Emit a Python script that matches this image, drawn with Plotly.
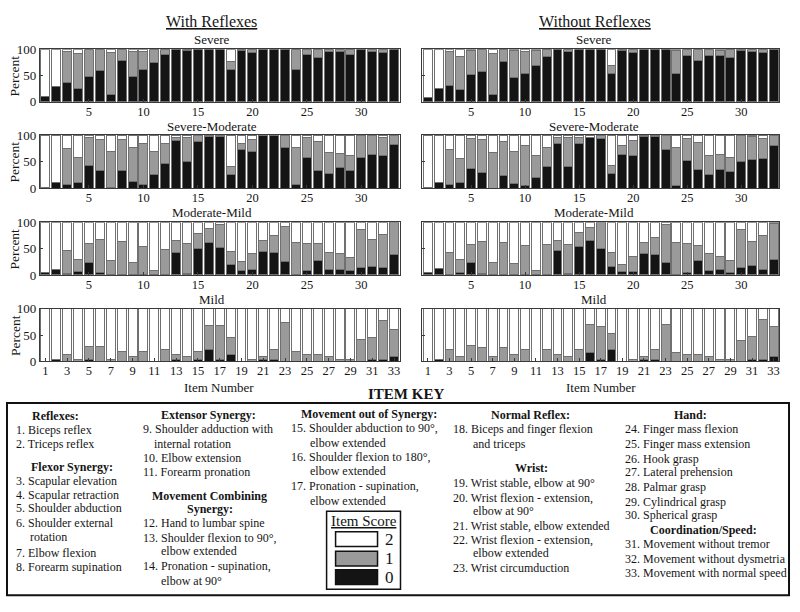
import plotly.graph_objects as go

W, H = 800, 612
FONT = "Liberation Serif, Times New Roman, serif"
TXT = "#151515"
AX = "#3a3a3a"

items = list(range(1, 34))

# ---- data: percent of subjects with item score 0 (black) and 1 (gray) ----
severe_with_0 = [10, 30, 36, 25, 49, 59, 15, 78, 49, 62, 75, 90, 100, 97, 100, 100, 100, 62, 97, 93, 100, 100, 100, 62, 90, 85, 95, 95, 90, 100, 95, 94, 100]
severe_with_1 = [0, 0, 60, 66, 51, 41, 78, 22, 47, 34, 25, 10, 0, 3, 0, 0, 0, 14, 3, 7, 0, 0, 0, 38, 10, 15, 5, 5, 10, 0, 5, 6, 0]
severe_wo_0 = [8, 25, 31, 23, 52, 58, 14, 77, 47, 54, 70, 86, 100, 96, 100, 100, 100, 54, 97, 94, 100, 100, 100, 54, 88, 78, 88, 89, 84, 98, 96, 94, 100]
severe_wo_1 = [0, 0, 64, 63, 46, 42, 77, 23, 50, 41, 28, 14, 0, 4, 0, 0, 0, 15, 3, 6, 0, 0, 0, 43, 12, 22, 12, 9, 16, 2, 4, 6, 0]

sevmod_with_0 = [2, 10, 6, 10, 42, 33, 1, 33, 12, 6, 25, 47, 90, 50, 88, 98, 97, 25, 72, 69, 100, 100, 77, 6, 58, 34, 27, 38, 33, 57, 63, 61, 82]
sevmod_with_1 = [0, 0, 69, 48, 53, 58, 68, 58, 65, 79, 45, 38, 6, 45, 11, 0, 0, 16, 13, 22, 0, 0, 22, 71, 37, 54, 40, 28, 28, 42, 37, 34, 18]
sevmod_wo_0 = [1, 10, 7, 11, 37, 30, 0, 24, 9, 5, 20, 40, 85, 40, 85, 96, 94, 28, 64, 61, 97, 98, 73, 5, 53, 35, 25, 35, 31, 51, 54, 56, 81]
sevmod_wo_1 = [0, 0, 66, 45, 56, 61, 68, 64, 61, 76, 42, 37, 11, 56, 11, 0, 6, 15, 17, 29, 2, 0, 27, 71, 40, 51, 37, 29, 26, 49, 43, 38, 19]

modmild_with_0 = [4, 11, 2, 6, 23, 4, 0, 0, 0, 0, 0, 0, 43, 2, 51, 61, 52, 20, 8, 10, 45, 43, 26, 0, 8, 28, 11, 11, 9, 15, 17, 15, 38]
modmild_with_1 = [0, 0, 45, 24, 37, 63, 28, 64, 23, 54, 8, 49, 22, 58, 27, 27, 43, 25, 17, 31, 20, 32, 66, 62, 52, 32, 32, 30, 25, 71, 50, 62, 61]
modmild_wo_0 = [4, 13, 0, 4, 23, 2, 0, 0, 0, 0, 0, 0, 47, 2, 54, 66, 50, 16, 7, 7, 40, 39, 23, 0, 4, 27, 9, 11, 5, 14, 18, 11, 29]
modmild_wo_1 = [0, 0, 43, 25, 34, 62, 23, 62, 21, 55, 9, 57, 19, 55, 27, 25, 49, 27, 12, 29, 21, 33, 73, 61, 55, 28, 31, 25, 22, 72, 46, 64, 69]

mild_with_0 = [0, 4, 0, 0, 4, 0, 0, 0, 0, 0, 0, 0, 4, 0, 4, 23, 4, 14, 0, 0, 4, 4, 0, 0, 0, 0, 0, 0, 0, 0, 4, 4, 9]
mild_with_1 = [0, 0, 14, 4, 24, 28, 4, 19, 9, 19, 0, 23, 10, 9, 15, 46, 65, 32, 0, 4, 5, 19, 73, 19, 14, 14, 9, 4, 4, 41, 42, 73, 51]
mild_wo_0 = [0, 3, 0, 0, 0, 0, 0, 0, 0, 0, 0, 0, 0, 0, 0, 17, 4, 22, 0, 0, 4, 4, 0, 0, 0, 0, 0, 0, 0, 0, 4, 4, 9]
mild_wo_1 = [0, 0, 22, 9, 31, 26, 9, 26, 13, 22, 0, 22, 13, 9, 22, 53, 63, 30, 0, 4, 5, 18, 70, 17, 13, 13, 9, 4, 4, 39, 44, 76, 58]

severity_titles = ["Severe", "Severe-Moderate", "Moderate-Mild", "Mild"]
column_titles = ["With Reflexes", "Without Reflexes"]
panels = [
    [(severe_with_0, severe_with_1), (severe_wo_0, severe_wo_1)],
    [(sevmod_with_0, sevmod_with_1), (sevmod_wo_0, sevmod_wo_1)],
    [(modmild_with_0, modmild_with_1), (modmild_wo_0, modmild_wo_1)],
    [(mild_with_0, mild_with_1), (mild_wo_0, mild_wo_1)],
]
score_labels = ["2", "1", "0"]
score_colors = {"0": "#141414", "1": "#9a9a9a", "2": "#ffffff"}

# ---- layout geometry (pixels) ----
col_x = [(40, 400), (423, 780)]
row_y = [(43.3, 97.3), (131.3, 185.7), (220.7, 274.7), (309.3, 363.3)]
col_title_x = [212, 595]


def px(x):
    return x / W


def py(y):
    return 1 - y / H


fig = go.Figure()
layout = dict(
    width=W, height=H, margin=dict(l=0, r=0, t=0, b=0),
    paper_bgcolor="white", plot_bgcolor="white",
    barmode="stack", bargap=0.18, showlegend=False,
    font=dict(family=FONT, color=TXT),
)
annotations = []
shapes = []


def ann(text, x, y, size=12, xanchor="center", yanchor="middle", bold=False, angle=0):
    if bold:
        text = "<b>" + text + "</b>"
    annotations.append(dict(
        text=text, x=px(x), y=py(y), xref="paper", yref="paper",
        xanchor=xanchor, yanchor=yanchor, showarrow=False, textangle=angle,
        borderpad=0, font=dict(family=FONT, size=size, color=TXT),
    ))


for r in range(4):
    for c in range(2):
        n = r * 2 + c + 1
        suffix = "" if n == 1 else str(n)
        b0, b1 = panels[r][c]
        b2 = [100 - a - b for a, b in zip(b0, b1)]
        for vals, key in ((b0, "0"), (b1, "1"), (b2, "2")):
            fig.add_trace(go.Bar(
                x=items, y=vals, xaxis="x" + suffix, yaxis="y" + suffix,
                marker=dict(color=score_colors[key], line=dict(color="#707070", width=1)),
                hoverinfo="skip",
            ))
        if r == 3:
            tv = list(range(1, 34, 2))
        else:
            tv = list(range(5, 31, 5))
        layout["xaxis" + suffix] = dict(
            domain=[px(col_x[c][0]), px(col_x[c][1])], range=[0.5, 33.5],
            anchor="y" + suffix, tickvals=tv, ticktext=[str(v) for v in tv],
            showline=True, mirror=True, linecolor=AX, linewidth=1,
            ticks="inside", ticklen=3, tickcolor=AX, ticklabelstandoff=-2,
            tickfont=dict(family=FONT, size=12.5, color=TXT),
            showgrid=False, zeroline=False, fixedrange=True,
        )
        layout["yaxis" + suffix] = dict(
            domain=[py(row_y[r][1]), py(row_y[r][0])], range=[0, 100],
            anchor="x" + suffix, tickvals=[0, 50, 100],
            showticklabels=(c == 0),
            showline=True, mirror=True, linecolor=AX, linewidth=1,
            ticks="inside", ticklen=3, tickcolor=AX,
            tickfont=dict(family=FONT, size=13, color=TXT),
            showgrid=False, zeroline=False, fixedrange=True,
        )
        # panel title
        title_y = [33, 122.5, 211, 300][r]
        ann(severity_titles[r], col_title_x[c], title_y, size=13)
    # Percent label
    ann("Percent", 15, (row_y[r][0] + row_y[r][1]) / 2, size=13.5, angle=-90)

# column titles
ann("<u>" + column_titles[0] + "</u>", 212, 15, size=16)
ann("<u>" + column_titles[1] + "</u>", 596, 15, size=16)
# x axis titles
ann("Item Number", 219, 390, size=13)
ann("Item Number", 602, 390, size=13)

# ---- ITEM KEY ----
ann("ITEM KEY", 407, 397, size=15, bold=True)
shapes.append(dict(type="rect", xref="paper", yref="paper",
                   x0=px(7), x1=px(790), y0=py(603), y1=py(406),
                   line=dict(color="#111", width=2)))

FS = 12
key_headings = [
    ("Reflexes:", 56, 419.5), ("Flexor Synergy:", 72, 472),
    ("Extensor Synergy:", 209, 418.5), ("Movement Combining", 210, 501), ("Synergy:", 210, 515),
    ("Movement out of Synergy:", 369, 417.5),
    ("Normal Reflex:", 531, 418.5), ("Wrist:", 532, 473),
    ("Hand:", 691, 418.5), ("Coordination/Speed:", 704, 536),
]
key_lines = [
    ("1. Biceps reflex", 15, 434), ("2. Triceps reflex", 15, 448),
    ("3. Scapular elevation", 15, 486), ("4. Scapular retraction", 15, 500),
    ("5. Shoulder abduction", 15, 514), ("6. Shoulder external", 15, 529),
    ("rotation", 29, 543), ("7. Elbow flexion", 15, 560), ("8. Forearm supination", 15, 574),
    ("9. Shoulder adduction with", 142, 433), ("internal rotation", 153, 448),
    ("10. Elbow extension", 142, 462), ("11. Forearm pronation", 142, 477),
    ("12. Hand to lumbar spine", 142, 529), ("13. Shoulder flexion to 90°,", 142, 544),
    ("elbow extended", 160, 558), ("14. Pronation - supination,", 142, 573),
    ("elbow at 90°", 160, 588),
    ("15. Shoulder abduction to 90°,", 290, 432), ("elbow extended", 309, 447),
    ("16. Shoulder flexion to 180°,", 290, 461), ("elbow extended", 309, 476),
    ("17. Pronation - supination,", 290, 491), ("elbow extended", 309, 506),
    ("18. Biceps and finger flexion", 453, 433), ("and triceps", 473, 448),
    ("19. Wrist stable, elbow at 90°", 453, 488), ("20. Wrist flexion - extension,", 453, 503),
    ("elbow at 90°", 473, 517), ("21. Wrist stable, elbow extended", 453, 532),
    ("22. Wrist flexion - extension,", 453, 546), ("elbow extended", 473, 560),
    ("23. Wrist circumduction", 453, 575),
    ("24. Finger mass flexion", 625, 433), ("25. Finger mass extension", 625, 448),
    ("26. Hook grasp", 625, 463), ("27. Lateral prehension", 625, 477),
    ("28. Palmar grasp", 625, 492), ("29. Cylindrical grasp", 625, 507),
    ("30. Spherical grasp", 625, 521),
    ("31. Movement without tremor", 625, 551), ("32. Movement without dysmetria", 625, 566),
    ("33. Movement with normal speed", 625, 580),
]
for t, x, y in key_headings:
    ann(t, x, y, size=FS, bold=True)
for t, x, y in key_lines:
    ann(t, x, y, size=FS, xanchor="left")

# ---- Item Score legend ----
shapes.append(dict(type="rect", xref="paper", yref="paper",
                   x0=px(327), x1=px(401), y0=py(597), y1=py(517),
                   line=dict(color="#111", width=1.5)))
ann("<u>Item Score</u>", 364, 527, size=15)
sw_y = [(538, 553), (558, 573), (577, 592)]
for lab, (y0, y1) in zip(score_labels, sw_y):
    shapes.append(dict(type="rect", xref="paper", yref="paper",
                       x0=px(336), x1=px(378), y0=py(y1), y1=py(y0),
                       fillcolor=score_colors[lab], line=dict(color="#111", width=1.5)))
    ann(lab, 390, (y0 + y1) / 2, size=17)

layout["annotations"] = annotations
layout["shapes"] = shapes
fig.update_layout(**layout)
fig.write_html("out.html", config={"displayModeBar": False, "staticPlot": True},
               post_script="document.body.style.margin='0px';")
